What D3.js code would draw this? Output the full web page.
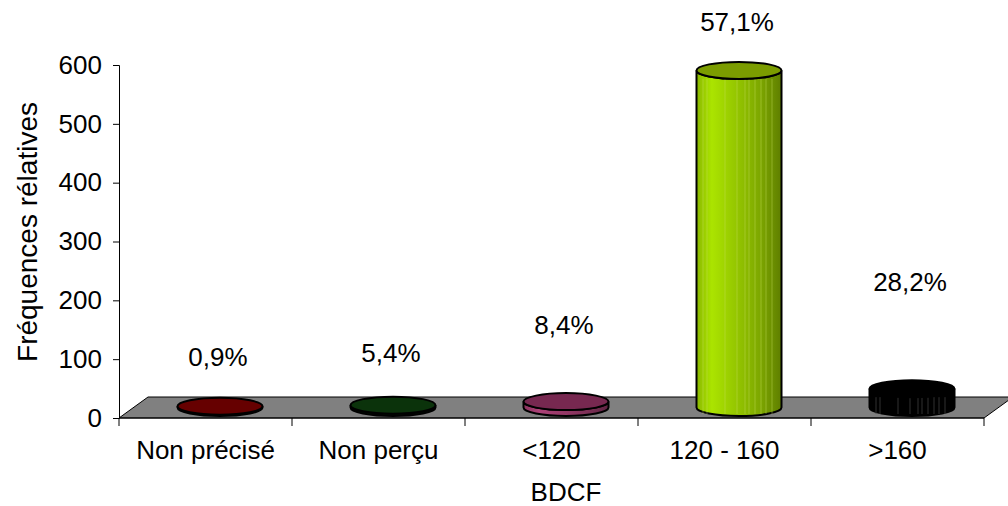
<!DOCTYPE html>
<html>
<head>
<meta charset="utf-8">
<script src="https://cdn.jsdelivr.net/npm/d3@7/dist/d3.min.js"></script>
<style>
  html, body { margin: 0; padding: 0; background: #fff; }
  svg { display: block; }
  text { font-family: "Liberation Sans", Arial, sans-serif; fill: #000; }
</style>
</head>
<body>
<svg id="chart" width="1008" height="506"></svg>
<script>
// Categories of BDCF and the frequencies of each
const categories = ["Non précisé", "Non perçu", "<120", "120 - 160", ">160"];
const frequencies = [2, 4, 10, 573, 32];
const percentLabels = ["0,9%", "5,4%", "8,4%", "57,1%", "28,2%"];
const yTicks = [0, 100, 200, 300, 400, 500, 600];

// Colours: top face, side face
const topColors  = ["#660000", "#0b330b", "#772850", "#7b9c00", "#000000"];
const sideColors = ["#7a0000", "#003300", "#9a3a6a", "#99cc00", "#000000"];

const FONT = 26;
const svg = d3.select("#chart");

const left = 119, right = 984, floorY = 418;
const depthX = 29, depthY = -21;

const x = d3.scaleBand().domain(categories).range([left, right]).paddingInner(0).paddingOuter(0);
const y = d3.scaleLinear().domain([0, 600]).range([floorY, 65]);

// Label heights on the value axis
const labelLevels = [104, 111, 158, 673, 232];

// Floor
svg.append("path")
  .attr("d", `M${left},${floorY} L${right},${floorY} L${right + depthX},${floorY + depthY} L${left + depthX},${floorY + depthY} Z`)
  .attr("fill", "#808080")
  .attr("stroke", "#000")
  .attr("stroke-width", 1);

// Value axis
const yAxis = d3.axisLeft(y).tickValues(yTicks).tickSize(6).tickPadding(11).tickFormat(d3.format("d"));
const gy = svg.append("g").attr("transform", `translate(${left},0)`).call(yAxis);
gy.select(".domain").attr("stroke", "#000");
gy.selectAll(".tick line").attr("stroke", "#000");
gy.selectAll(".tick text").attr("font-size", FONT).attr("font-family", "Liberation Sans, Arial, sans-serif").attr("fill", "#000");

// Category axis with ticks at band edges
const gx = svg.append("g").attr("transform", `translate(0,${floorY})`);
gx.append("line").attr("x1", left).attr("x2", right).attr("y1", 0).attr("y2", 0).attr("stroke", "#000");
const edges = categories.map(c => x(c)).concat([right]);
gx.selectAll("line.tick").data(edges).enter().append("line")
  .attr("class", "tick")
  .attr("x1", d => d).attr("x2", d => d)
  .attr("y1", 0).attr("y2", 8)
  .attr("stroke", "#000");
gx.selectAll("text.cat").data(categories).enter().append("text")
  .attr("class", "cat")
  .attr("x", d => x(d) + x.bandwidth() / 2)
  .attr("y", 41)
  .attr("text-anchor", "middle")
  .attr("font-size", FONT)
  .text(d => d);

// Gradients for the cylinder sides
const defs = svg.append("defs");
sideColors.forEach((c, i) => {
  const base = d3.color(c);
  const g = defs.append("linearGradient").attr("id", "side" + i).attr("x1", "0%").attr("x2", "100%");
  const stops = [[0, 0.9], [0.18, 1.12], [0.45, 0.98], [0.75, 0.82], [1, 0.62]];
  stops.forEach(([o, k]) => {
    const col = d3.rgb(Math.min(255, base.r * k), Math.min(255, base.g * k), Math.min(255, base.b * k));
    g.append("stop").attr("offset", (o * 100) + "%").attr("stop-color", col.formatHex());
  });
});

// Cylinders
const rx = 42.5, ry = 8.5;
const data = categories.map((c, i) => ({ c, v: frequencies[i], i }));
const cyl = svg.selectAll("g.cyl").data(data).enter().append("g").attr("class", "cyl");

const cxOf = d => x(d.c) + x.bandwidth() / 2 + depthX / 2;
const baseOf = () => floorY + depthY / 2;
const topOf = d => baseOf() - (floorY - y(d.v));

cyl.append("path")
  .attr("d", d => {
    const cx = cxOf(d), b = baseOf(), t = topOf(d);
    return `M${cx - rx},${t} L${cx - rx},${b} A${rx},${ry} 0 0 0 ${cx + rx},${b} L${cx + rx},${t} A${rx},${ry} 0 0 1 ${cx - rx},${t} Z`;
  })
  .attr("fill", d => `url(#side${d.i})`)
  .attr("stroke", "#000")
  .attr("stroke-width", 2);

// Faint vertical streaks on the tall and dark cylinders
cyl.filter(d => d.v > 20).each(function(d) {
  const g = d3.select(this);
  const cx = cxOf(d), b = baseOf(), t = topOf(d);
  const offs = [-36, -32, -14, -2, 6, 10, 16, 22, 27, 33];
  g.selectAll("line.streak").data(offs).enter().append("line")
    .attr("class", "streak")
    .attr("x1", o => cx + o).attr("x2", o => cx + o)
    .attr("y1", t + ry).attr("y2", b + ry - 2)
    .attr("stroke", d.c === ">160" ? "#444" : "#c8e060")
    .attr("stroke-opacity", d.c === ">160" ? 0.7 : 0.4)
    .attr("stroke-width", 1);
});

cyl.append("ellipse")
  .attr("cx", cxOf)
  .attr("cy", topOf)
  .attr("rx", rx)
  .attr("ry", ry)
  .attr("fill", d => topColors[d.i])
  .attr("stroke", "#000")
  .attr("stroke-width", 2);

// Percentage labels
svg.selectAll("text.pct").data(data).enter().append("text")
  .attr("class", "pct")
  .attr("x", d => cxOf(d) - 2)
  .attr("y", d => y(labelLevels[d.i]))
  .attr("dy", "0.35em")
  .attr("text-anchor", "middle")
  .attr("font-size", FONT)
  .text(d => percentLabels[d.i]);

// Axis titles
svg.append("text")
  .attr("transform", `translate(37,232) rotate(-90)`)
  .attr("text-anchor", "middle")
  .attr("font-size", 28)
  .text("Fréquences rélatives");

svg.append("text")
  .attr("x", (left + right + depthX) / 2)
  .attr("y", 501)
  .attr("text-anchor", "middle")
  .attr("font-size", FONT)
  .text("BDCF");
</script>
</body>
</html>
